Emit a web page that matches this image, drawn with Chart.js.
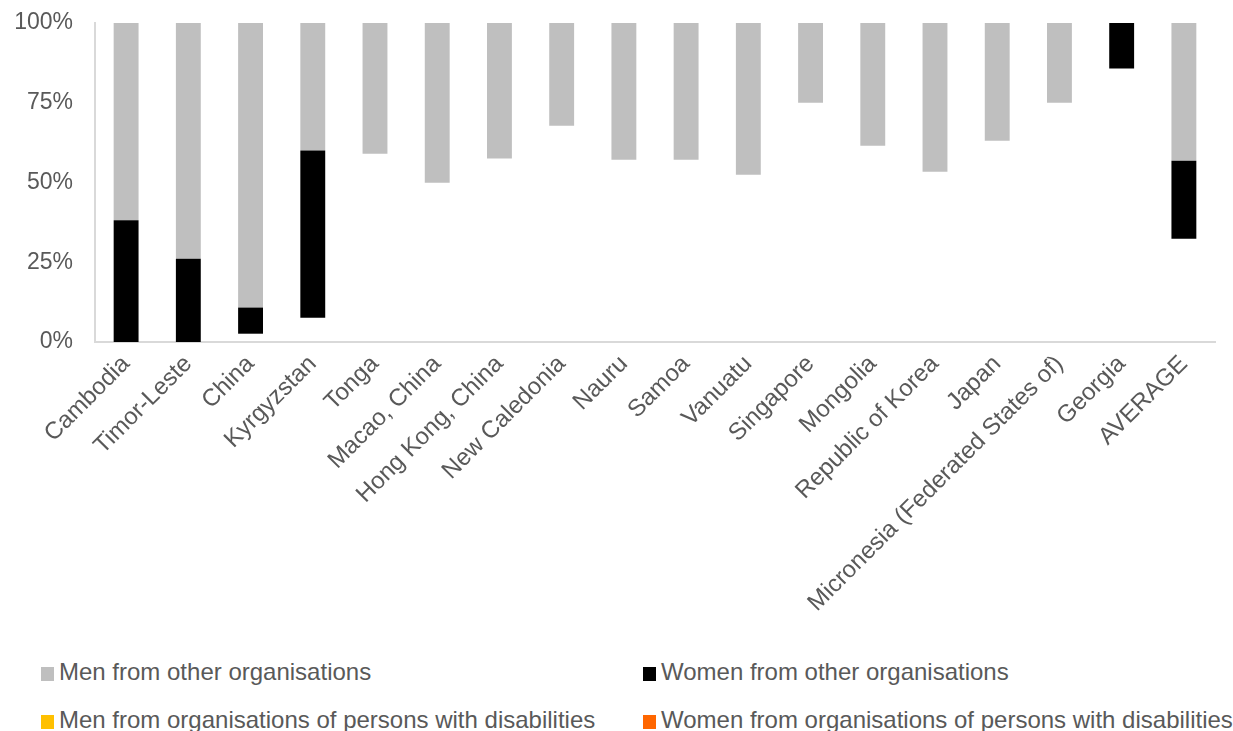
<!DOCTYPE html>
<html>
<head>
<meta charset="utf-8">
<script src="https://cdn.jsdelivr.net/npm/chart.js@4"></script>
<style>
    body { margin: 0; background: #fff; font-family: "Liberation Sans", Arial, sans-serif; }
    #wrap { position: relative; width: 1233px; height: 731px; }
    #chartBox { position: absolute; left: 0; top: 0; width: 1233px; height: 640px; }
    #legend { position: absolute; left: 0; top: 0; width: 1233px; }
    .item { position: absolute; font-size: 24px; color: #595959; white-space: nowrap; line-height: 26px; }
    .box { display: inline-block; width: 13px; height: 14px; margin-right: 5px; vertical-align: -1px; }
</style>
</head>
<body>
<div id="wrap">
    <div id="chartBox"><canvas id="opdChart"></canvas></div>
    <div id="legend"></div>
</div>
<script>
// categories
const countries = ['Cambodia', 'Timor-Leste', 'China', 'Kyrgyzstan', 'Tonga', 'Macao, China',
    'Hong Kong, China', 'New Caledonia', 'Nauru', 'Samoa', 'Vanuatu', 'Singapore', 'Mongolia',
    'Republic of Korea', 'Japan', 'Micronesia (Federated States of)', 'Georgia', 'AVERAGE'];

// shares in %, stacked bottom to top
const menOpd = [0, 0, 2.6, 7.6, 59.0, 49.9, 57.5, 67.8, 57.1, 57.1, 52.4, 75.0, 61.5, 53.4, 63.1, 75.0, 85.7, 32.4];
const womenOpd = [0, 0, 0, 0, 0, 0, 0, 0, 0, 0, 0, 0, 0, 0, 0, 0, 0, 0];
const womenOther = [38.2, 26.1, 8.2, 52.4, 0, 0, 0, 0, 0, 0, 0, 0, 0, 0, 0, 0, 14.3, 24.4];
const menOther = [61.8, 73.9, 89.2, 40.0, 41.0, 50.1, 42.5, 32.2, 42.9, 42.9, 47.6, 25.0, 38.5, 46.6, 36.9, 25.0, 0, 43.2];

const yTicks = [0, 25, 50, 75, 100];

const datasets = [
    { label: 'Men from organisations of persons with disabilities', data: menOpd, backgroundColor: 'rgba(0,0,0,0)', legendColor: '#FFC000' },
    { label: 'Women from organisations of persons with disabilities', data: womenOpd, backgroundColor: 'rgba(0,0,0,0)', legendColor: '#FF6600' },
    { label: 'Women from other organisations', data: womenOther, backgroundColor: '#000000', legendColor: '#000000' },
    { label: 'Men from other organisations', data: menOther, backgroundColor: '#BFBFBF', legendColor: '#BFBFBF' }
];

const ctx = document.getElementById('opdChart').getContext('2d');
const opdChart = new Chart(ctx, {
    type: 'bar',
    data: { labels: countries, datasets: datasets },
    options: {
        responsive: true,
        maintainAspectRatio: false,
        animation: false,
        layout: { padding: { top: 23, right: 18, left: 0, bottom: 0 } },
        datasets: { bar: { barPercentage: 0.8, categoryPercentage: 0.5, borderWidth: 0 } },
        plugins: { legend: { display: false }, tooltip: { enabled: false } },
        scales: {
            x: {
                stacked: true,
                grid: { display: false },
                border: { display: true, color: '#D9D9D9', width: 2 },
                ticks: {
                    autoSkip: false, maxRotation: 45, minRotation: 45,
                    color: '#595959', font: { family: 'Liberation Sans', size: 24 }, padding: 0
                },
                afterFit: function (scale) {
                    scale.height = 298;
                    scale.paddingLeft = 0;
                    scale.paddingRight = 0;
                }
            },
            y: {
                stacked: true,
                min: 0, max: 100,
                afterBuildTicks: function (scale) { scale.ticks = yTicks.map(v => ({ value: v })); },
                grid: { display: false },
                border: { display: true, color: '#D9D9D9', width: 2 },
                ticks: {
                    color: '#595959', font: { family: 'Liberation Sans', size: 23 }, padding: 14,
                    callback: function (value) { return value + '%'; }
                },
                afterFit: function (scale) {
                    scale.width = 95;
                    scale.paddingTop = 0;
                    scale.paddingBottom = 0;
                }
            }
        }
    }
});

// legend in two columns, same order as the original
const legendOrder = [3, 2, 0, 1];
const legendPos = [[41, 659], [643, 659], [41, 707], [643, 707]];
const legendEl = document.getElementById('legend');
legendOrder.forEach((di, i) => {
    const ds = opdChart.data.datasets[di];
    const item = document.createElement('div');
    item.className = 'item';
    item.style.left = legendPos[i][0] + 'px';
    item.style.top = legendPos[i][1] + 'px';
    item.innerHTML = '<span class="box" style="background:' + ds.legendColor + '"></span>' + ds.label;
    legendEl.appendChild(item);
});
</script>
</body>
</html>
